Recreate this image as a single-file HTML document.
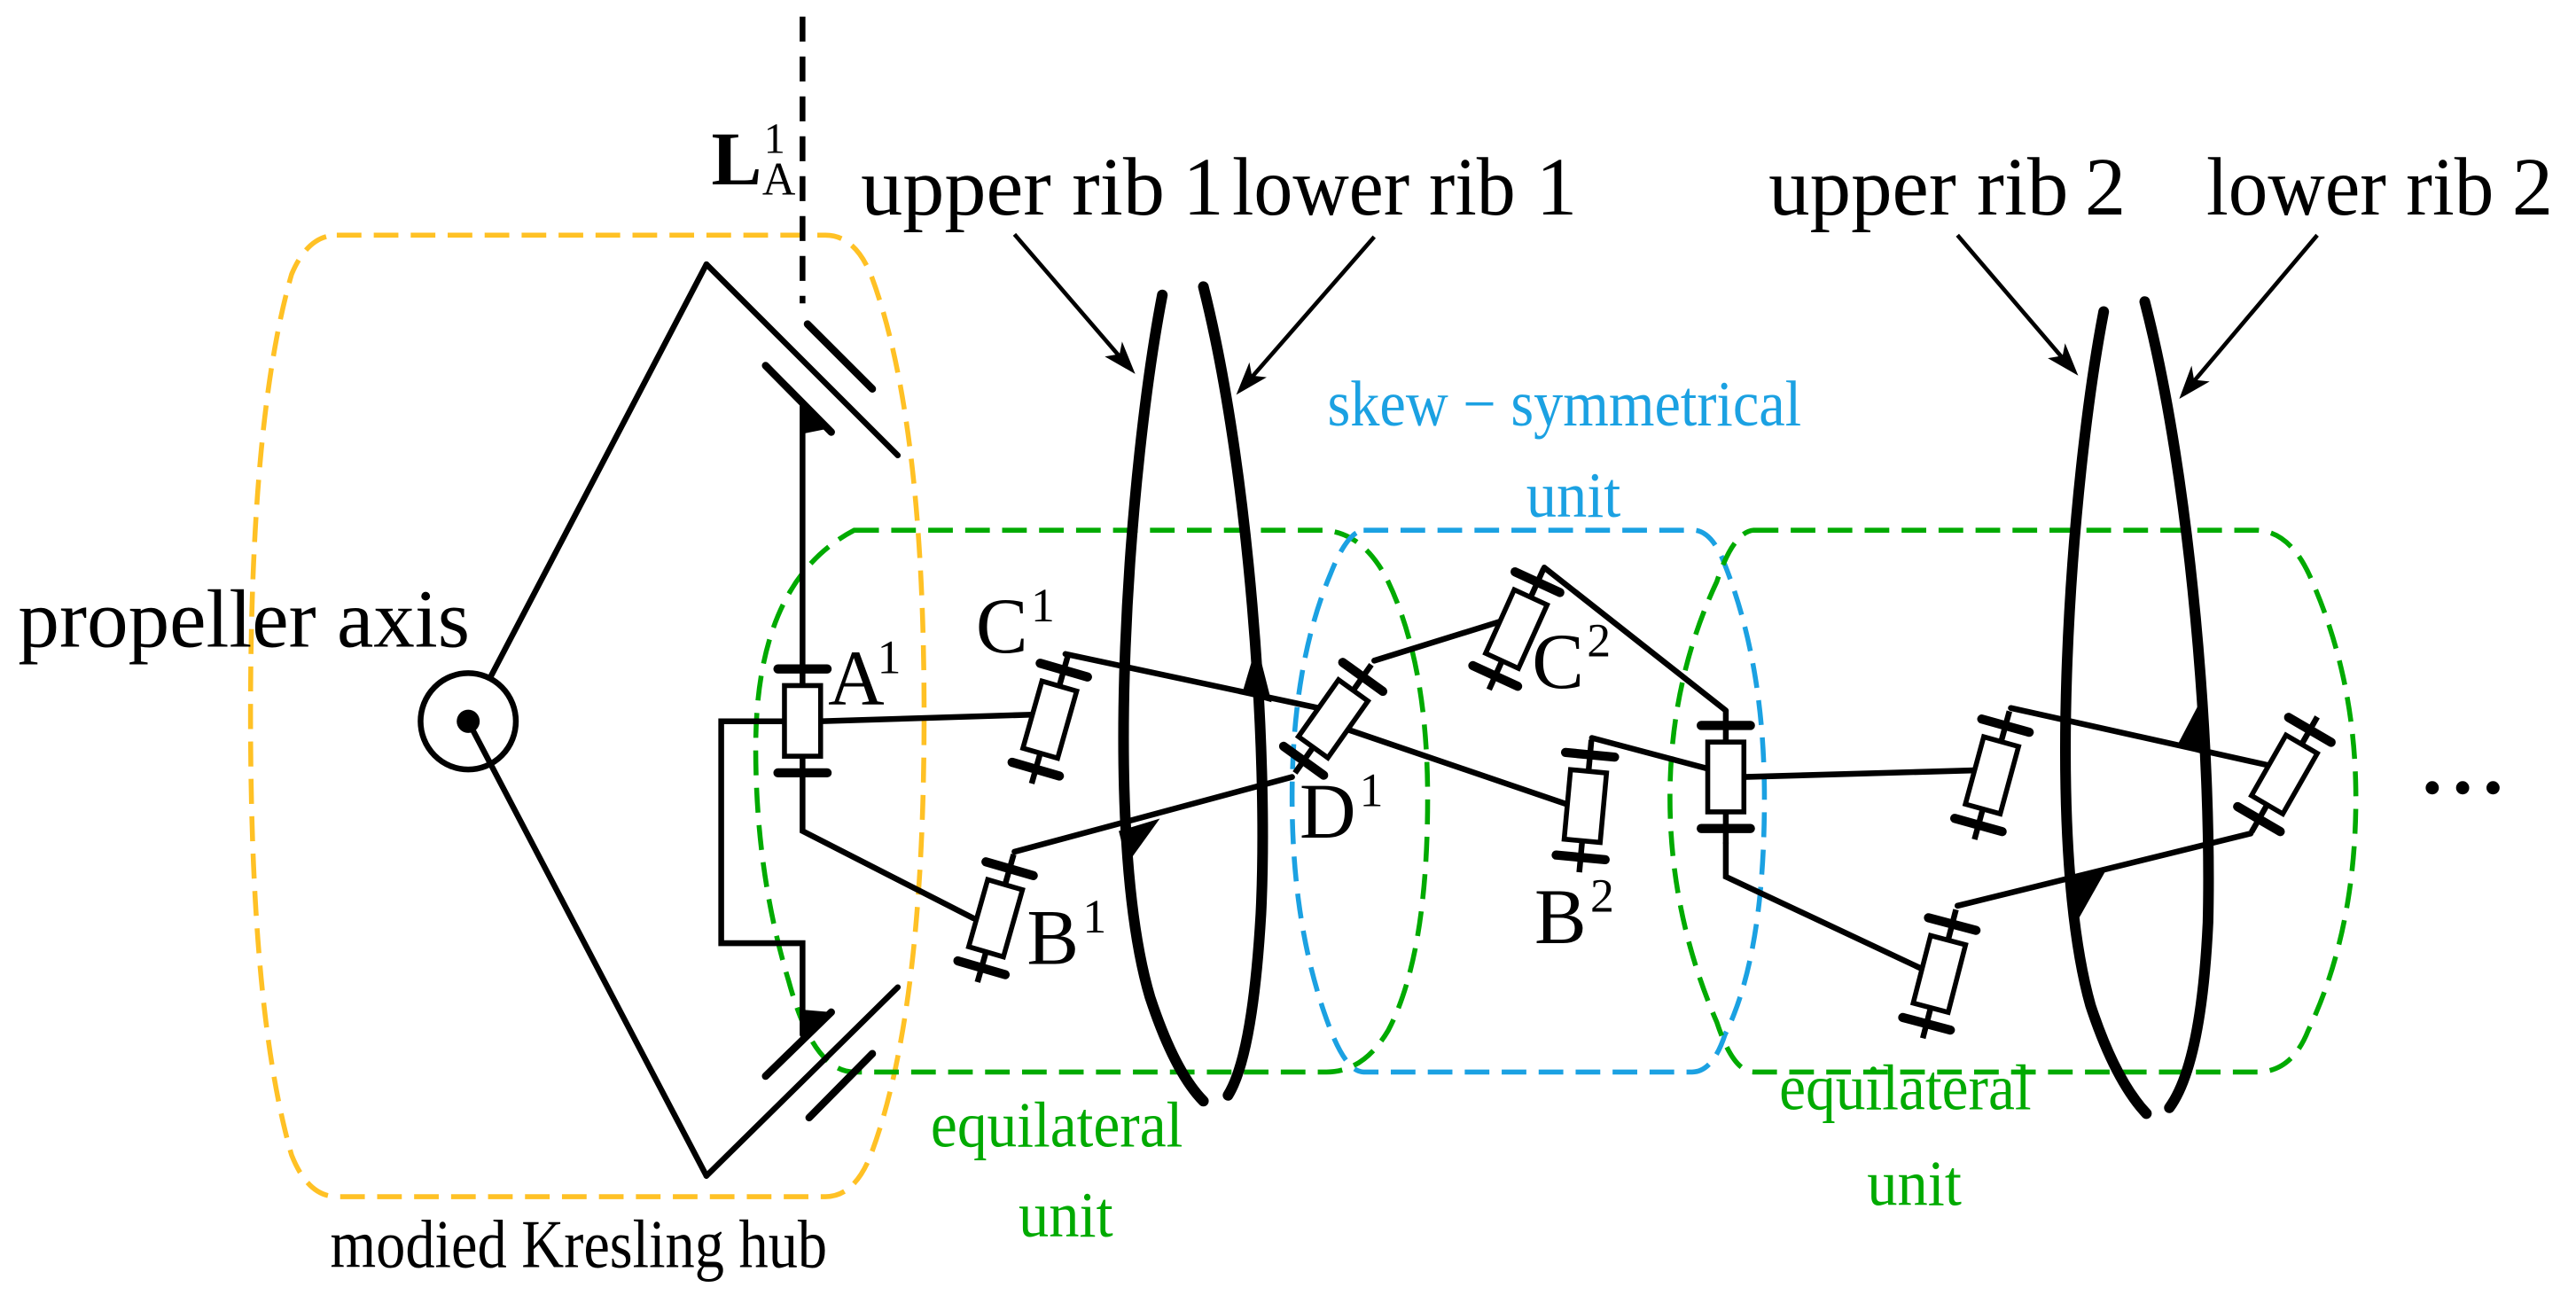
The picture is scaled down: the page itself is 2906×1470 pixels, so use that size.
<!DOCTYPE html>
<html><head><meta charset="utf-8"><style>html,body{margin:0;padding:0;background:#fff}svg{display:block}</style></head>
<body>
<svg width="2906" height="1470" viewBox="0 0 3136 1568" preserveAspectRatio="none" xmlns="http://www.w3.org/2000/svg">
<defs>
<g id="d">
<line x1="0" y1="-80" x2="0" y2="80" stroke="#000" stroke-width="7"/>
<line x1="-30" y1="-62" x2="30" y2="-62" stroke="#000" stroke-width="11" stroke-linecap="round"/>
<line x1="-30" y1="62" x2="30" y2="62" stroke="#000" stroke-width="11" stroke-linecap="round"/>
<rect x="-22" y="-42" width="44" height="84" fill="#fff" stroke="#000" stroke-width="6"/>
</g>
</defs>
<g fill="none" stroke-width="6" stroke-dasharray="30 15">
<path d="M410,283 L1005,283 Q1040,283 1060,330 Q1125,500 1125,860 Q1125,1220 1060,1390 Q1040,1440 1005,1440 L410,1440 Q375,1440 355,1390 Q305,1220 305,860 Q305,500 355,330 Q375,283 410,283 Z" stroke="#ffc125"/>
<path d="M1040,638 L1610,638 Q1660,640 1690,700 Q1738,800 1738,960 Q1738,1150 1690,1240 Q1660,1290 1615,1290 L1040,1290 Q990,1290 960,1180 Q920,1050 920,900 Q920,700 1040,638 Z" stroke="#00aa00"/>
<path d="M1660,638 L2063,638 Q2085,640 2100,680 Q2148,800 2148,960 Q2148,1150 2100,1245 Q2085,1290 2060,1290 L1660,1290 Q1640,1290 1620,1240 Q1573,1120 1573,960 Q1573,800 1620,690 Q1640,640 1660,638 Z" stroke="#1ba1e2"/>
<path d="M2135,638 L2748,638 Q2790,640 2815,700 Q2868,820 2868,960 Q2868,1120 2810,1240 Q2790,1290 2748,1290 L2135,1290 Q2110,1290 2090,1230 Q2033,1100 2033,960 Q2033,820 2090,700 Q2110,640 2135,638 Z" stroke="#00aa00"/>
</g>
<line x1="977" y1="20" x2="977" y2="365" stroke="#000" stroke-width="7" stroke-dasharray="30 18"/>
<g stroke="#000" stroke-width="7" fill="none" stroke-linecap="round">
<circle cx="570" cy="868" r="58"/>
<line x1="597" y1="815" x2="860" y2="318"/>
<line x1="570" y1="868" x2="860" y2="1415"/>
<line x1="860" y1="318" x2="1093" y2="548"/>
<line x1="983" y1="390" x2="1062" y2="468" stroke-width="9"/>
<line x1="932" y1="440" x2="1012" y2="520" stroke-width="9"/>
<line x1="860" y1="1415" x2="1093" y2="1188"/>
<line x1="932" y1="1295" x2="1012" y2="1218" stroke-width="9"/>
<line x1="985" y1="1345" x2="1062" y2="1268" stroke-width="9"/>
<line x1="977" y1="485" x2="977" y2="805"/>
<polyline points="977,930 977,1000 1185,1105"/>
<polyline points="953,868 878,868 878,1135 977,1135 977,1245"/>
<line x1="997" y1="868" x2="1257" y2="860"/>
<line x1="1297" y1="787" x2="1605" y2="852"/>
<line x1="1641" y1="878" x2="1908" y2="968"/>
<line x1="1573" y1="935" x2="1235" y2="1025"/>
<line x1="1673" y1="795" x2="1826" y2="748"/>
<line x1="1880" y1="683" x2="2101" y2="855"/>
<line x1="1938" y1="888" x2="2079" y2="925"/>
<line x1="2123" y1="935" x2="2404" y2="927"/>
<line x1="2448" y1="852" x2="2762" y2="921"/>
<line x1="2740" y1="1003" x2="2383" y2="1090"/>
<polyline points="2101,1015 2101,1055 2340,1166"/>
</g>
<circle cx="570" cy="868" r="14" fill="#000"/>
<g fill="#000">
<path d="M977,485 L1012,515 L977,522 Z"/>
<path d="M977,1245 L1012,1218 L977,1215 Z"/>
</g>
<g transform="translate(977,868)">
<line x1="0" y1="-63" x2="0" y2="62" stroke="#000" stroke-width="7"/>
<line x1="-30" y1="-63" x2="30" y2="-63" stroke="#000" stroke-width="11" stroke-linecap="round"/>
<line x1="-30" y1="62" x2="30" y2="62" stroke="#000" stroke-width="11" stroke-linecap="round"/>
<rect x="-22" y="-43" width="44" height="85" fill="#fff" stroke="#000" stroke-width="6"/>
</g>
<use href="#d" transform="translate(1278,866) rotate(16)"/>
<use href="#d" transform="translate(1212,1105) rotate(16)"/>
<use href="#d" transform="translate(1623,865) rotate(35.5)"/>
<use href="#d" transform="translate(1846,757) rotate(24.5)"/>
<use href="#d" transform="translate(1930,970) rotate(5.3)"/>
<use href="#d" transform="translate(2101,935)"/>
<use href="#d" transform="translate(2425,933) rotate(15.4)"/>
<use href="#d" transform="translate(2781,932) rotate(30)"/>
<use href="#d" transform="translate(2361,1172) rotate(14.6)"/>
<g stroke="#000" stroke-width="13" fill="none" stroke-linecap="round">
<path d="M1415,355 C1375,560 1340,1000 1400,1200 Q1430,1290 1465,1325"/>
<path d="M1465,345 C1520,560 1545,900 1535,1100 Q1525,1270 1495,1318"/>
<path d="M2561,375 C2521,580 2488,1010 2545,1210 Q2575,1300 2613,1340"/>
<path d="M2611,363 C2668,580 2693,910 2688,1110 Q2680,1280 2641,1333"/>
</g>
<g fill="#000">
<path d="M1530,775 L1548,845 L1512,835 Z"/>
<path d="M1372,1040 L1412,985 L1362,1000 Z"/>
<path d="M2678,845 L2690,910 L2650,898 Z"/>
<path d="M2528,1110 L2565,1045 L2515,1055 Z"/>
</g>
<g stroke="#000" stroke-width="5">
<line x1="1235" y1="282" x2="1370" y2="437"/>
<line x1="1673" y1="285" x2="1515" y2="464"/>
<line x1="2383" y1="283" x2="2518" y2="439"/>
<line x1="2821" y1="283" x2="2663" y2="468"/>
</g>
<g fill="#000">
<polygon points="1382,450 1345,429 1363,426 1366,411"/>
<polygon points="1505,475 1521,436 1524,452 1542,454"/>
<polygon points="2530,452 2493,431 2511,428 2514,413"/>
<polygon points="2653,480 2668,440 2671,457 2690,459"/>
</g>
<g font-family="Liberation Serif, serif" fill="#000">
<text x="1048" y="258" font-size="100" textLength="370" lengthAdjust="spacingAndGlyphs">upper rib</text>
<text x="1440" y="258" font-size="100">1</text>
<text x="1500" y="258" font-size="100" textLength="345" lengthAdjust="spacingAndGlyphs">lower rib</text>
<text x="1870" y="258" font-size="100">1</text>
<text x="2153" y="258" font-size="100" textLength="365" lengthAdjust="spacingAndGlyphs">upper rib</text>
<text x="2538" y="258" font-size="100">2</text>
<text x="2686" y="258" font-size="100" textLength="350" lengthAdjust="spacingAndGlyphs">lower rib</text>
<text x="3058" y="258" font-size="100">2</text>
<text x="22" y="778" font-size="100" textLength="550" lengthAdjust="spacingAndGlyphs">propeller axis</text>
<text x="402" y="1525" font-size="82" textLength="605" lengthAdjust="spacingAndGlyphs">modied Kresling hub</text>
<text x="866" y="222" font-size="92" font-weight="bold">L</text>
<text x="930" y="184" font-size="52">1</text>
<text x="928" y="234" font-size="56">A</text>
<text x="1008" y="848" font-size="95">A</text><text x="1068" y="810" font-size="58">1</text>
<text x="1188" y="785" font-size="95">C</text><text x="1255" y="748" font-size="58">1</text>
<text x="1250" y="1160" font-size="95">B</text><text x="1318" y="1122" font-size="58">1</text>
<text x="1582" y="1008" font-size="95">D</text><text x="1655" y="970" font-size="58">1</text>
<text x="1865" y="828" font-size="95">C</text><text x="1932" y="790" font-size="58">2</text>
<text x="1868" y="1135" font-size="95">B</text><text x="1936" y="1097" font-size="58">2</text>
</g>
<g fill="#000"><circle cx="2961" cy="948" r="8"/><circle cx="2998" cy="948" r="8"/><circle cx="3035" cy="948" r="8"/></g>
<g font-family="Liberation Serif, serif" font-size="78">
<text x="1616" y="512" fill="#1ba1e2" textLength="577" lengthAdjust="spacingAndGlyphs">skew − symmetrical</text>
<text x="1858" y="622" fill="#1ba1e2" textLength="115" lengthAdjust="spacingAndGlyphs">unit</text>
<text x="1133" y="1380" fill="#00aa00" textLength="307" lengthAdjust="spacingAndGlyphs">equilateral</text>
<text x="1240" y="1488" fill="#00aa00" textLength="115" lengthAdjust="spacingAndGlyphs">unit</text>
<text x="2166" y="1335" fill="#00aa00" textLength="307" lengthAdjust="spacingAndGlyphs">equilateral</text>
<text x="2273" y="1450" fill="#00aa00" textLength="115" lengthAdjust="spacingAndGlyphs">unit</text>
</g>
</svg>
</body></html>
